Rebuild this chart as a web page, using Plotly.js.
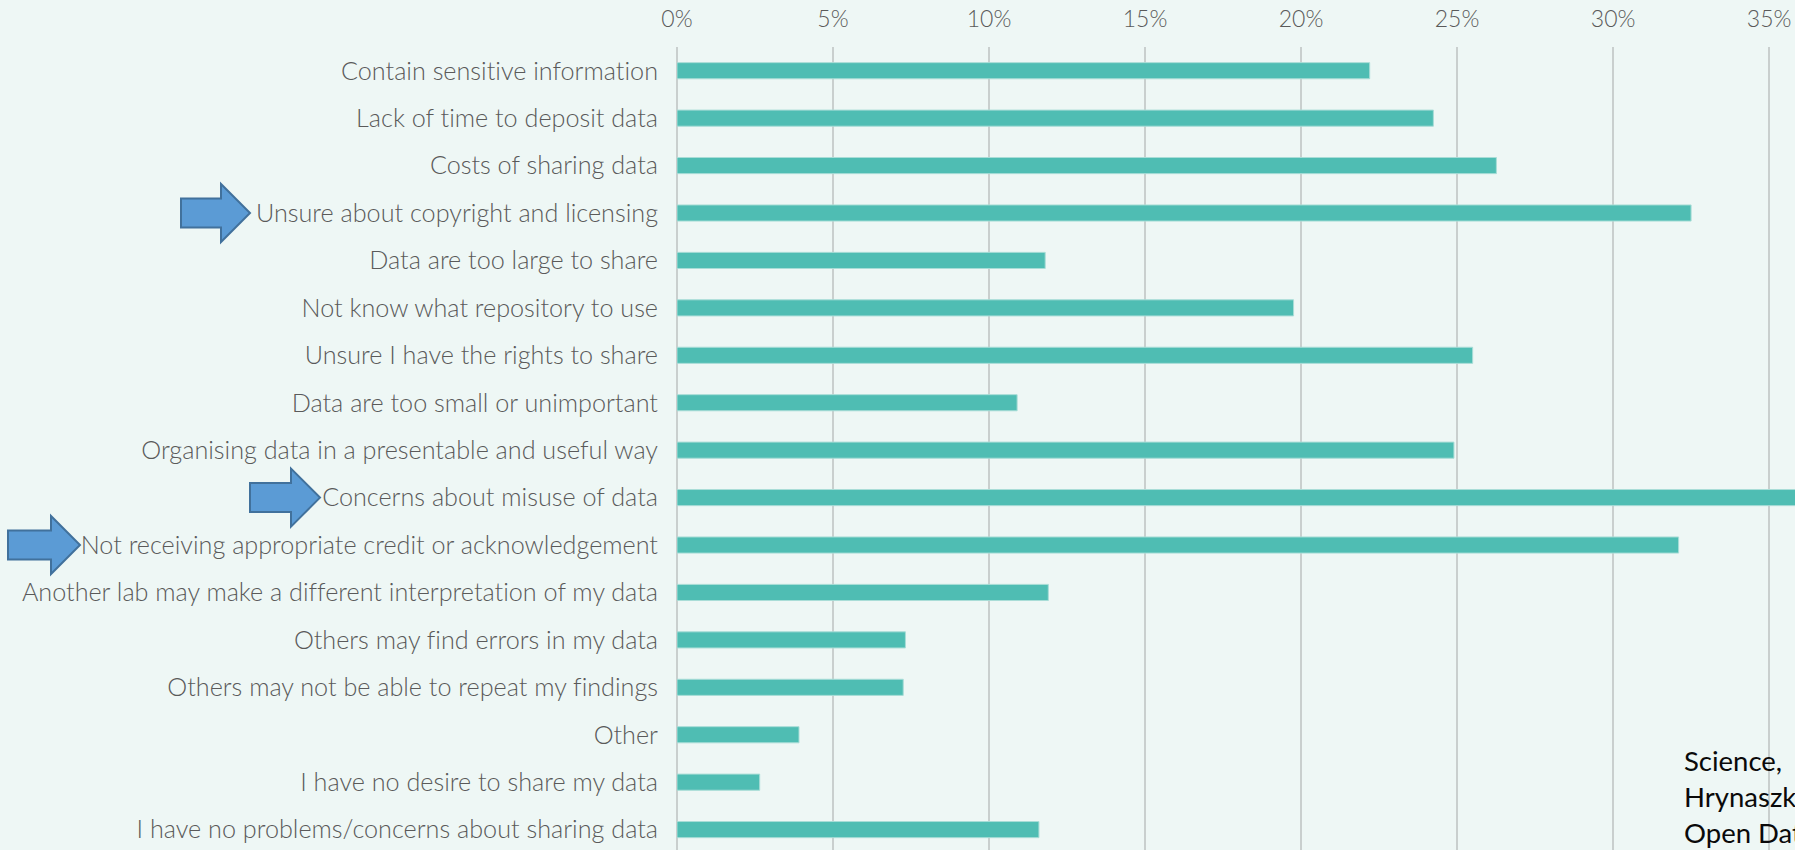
<!DOCTYPE html>
<html>
<head>
<meta charset="utf-8">
<script src="https://cdn.plot.ly/plotly-3.0.1.min.js"></script>
<style>
  html, body { margin: 0; padding: 0; overflow: hidden; background: #EEF7F5; }
  #chart { width: 1795px; height: 850px; }
  .main-svg text { font-variant-ligatures: none !important; font-feature-settings: "liga" 0, "clig" 0 !important; }
</style>
</head>
<body>
<div id="chart"></div>
<script>
const categories = [
  "Contain sensitive information",
  "Lack of time to deposit data",
  "Costs of sharing data",
  "Unsure about copyright and licensing",
  "Data are too large to share",
  "Not know what repository to use",
  "Unsure I have the rights to share",
  "Data are too small or unimportant",
  "Organising data in a presentable and useful way",
  "Concerns about misuse of data",
  "Not receiving appropriate credit or acknowledgement",
  "Another lab may make a different interpretation of my data",
  "Others may find errors in my data",
  "Others may not be able to repeat my findings",
  "Other",
  "I have no desire to share my data",
  "I have no problems/concerns about sharing data"
];
const percentValues = [22.2, 24.24, 26.26, 32.5, 11.8, 19.76, 25.5, 10.9, 24.9, 37.0, 32.1, 11.9, 7.32, 7.25, 3.91, 2.65, 11.6];
const highlighted = [
  "Unsure about copyright and licensing",
  "Concerns about misuse of data",
  "Not receiving appropriate credit or acknowledgement"
];
const sourceNote = "Science,<br>Hrynaszkiewicz<br>Open Data";

// arrow geometry in pixels relative to the axis origin: [left, tip]
const arrowSpans = [[-496, -427], [-427, -357], [-669, -597]];

function arrowPath(left, tip) {
  const hb = tip - 29;
  return `M${left},-14.5 L${hb},-14.5 L${hb},-29 L${tip},0 L${hb},29 L${hb},14.5 L${left},14.5 Z`;
}

const shapes = highlighted.map((cat, k) => ({
  type: 'path',
  xref: 'paper', yref: 'y',
  xsizemode: 'pixel', ysizemode: 'pixel',
  xanchor: 0, yanchor: categories.indexOf(cat),
  path: arrowPath(arrowSpans[k][0], arrowSpans[k][1]),
  fillcolor: '#5B9BD5',
  line: { color: '#41719C', width: 2 },
  layer: 'above'
}));

const trace = {
  type: 'bar',
  orientation: 'h',
  y: categories,
  x: percentValues,
  marker: { color: '#4FBDB3', line: { color: '#A9DDD7', width: 1 } },
  hoverinfo: 'x+y'
};

const labelFont = { family: 'Lato, sans-serif', color: '#5A5A5A', size: 25.2, weight: 300 };

const layout = {
  width: 1795, height: 850,
  margin: { l: 677, r: 0, t: 47, b: 0, pad: 0 },
  paper_bgcolor: '#EEF7F5',
  plot_bgcolor: '#EEF7F5',
  bargap: 0.66,
  showlegend: false,
  font: { family: 'Lato, sans-serif', color: '#5A5A5A', size: 21 },
  xaxis: {
    side: 'top',
    range: [0, 35.83],
    dtick: 5,
    ticksuffix: '%',
    showgrid: true,
    gridcolor: '#C9CFCE',
    gridwidth: 2,
    zeroline: true,
    zerolinecolor: '#C9CFCE',
    zerolinewidth: 2,
    showline: false,
    ticks: '',
    ticklabelstandoff: 14,
    tickfont: { family: 'Lato, sans-serif', color: '#5A5A5A', size: 23, weight: 300 },
    fixedrange: true
  },
  yaxis: {
    type: 'category',
    categoryorder: 'array',
    categoryarray: categories,
    range: [16.43, -0.5],
    showgrid: false,
    zeroline: false,
    showline: false,
    ticks: '',
    ticklabelstandoff: 18,
    tickfont: labelFont,
    fixedrange: true
  },
  shapes: shapes,
  annotations: [{
    xref: 'x', yref: 'paper',
    x: 32.2, y: 0.135,
    xanchor: 'left', yanchor: 'top',
    align: 'left',
    showarrow: false,
    text: sourceNote,
    font: { family: 'Lato, sans-serif', size: 27.5, color: '#0A0A0A' }
  }]
};

Plotly.newPlot('chart', [trace], layout, { displayModeBar: false, staticPlot: true });
</script>
</body>
</html>
